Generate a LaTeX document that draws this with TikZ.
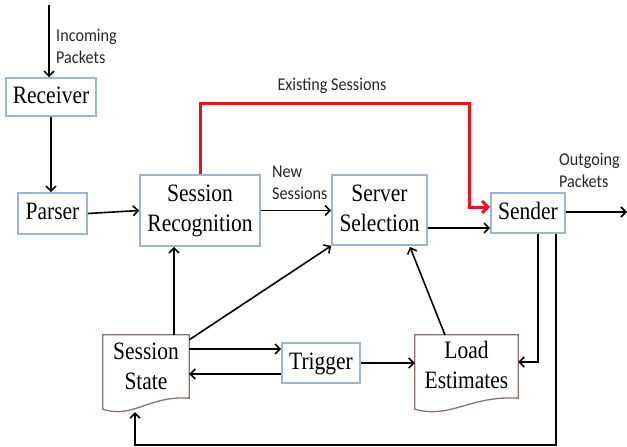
\documentclass[tikz,border=0pt]{standalone}
\usepackage{fontspec}
\setmainfont{Liberation Serif}
\newfontfamily\lab[FakeStretch=0.9]{Carlito}
\usetikzlibrary{arrows.meta,calc}
\definecolor{boxc}{HTML}{9DB5D3}
\definecolor{docc}{HTML}{8C7268}
\definecolor{redc}{HTML}{E8141B}
\definecolor{labc}{HTML}{262626}
\newcommand{\bt}[1]{\scalebox{0.86}[1]{\begin{tabular}{@{}c@{}}#1\end{tabular}}}
\begin{document}
\begin{tikzpicture}[x=1pt,y=-1pt,
  box/.style={draw=boxc, line width=1.6pt, fill=white, align=center, inner sep=0pt, font=\rmfamily\fontsize{25}{30}\selectfont},
  doc/.style={align=center, inner sep=0pt, font=\rmfamily\fontsize{25}{30}\selectfont},
  docline/.style={draw=docc, line width=1.3pt, fill=white},
  lbl/.style={align=left, inner sep=0pt, text=labc, font=\lab\fontsize{18}{22}\selectfont},
  conn/.style={line width=1.6pt, -{Straight Barb[length=5pt,width=10pt,line width=1.6pt]}},
  redconn/.style={draw=redc, line width=3pt, -{Straight Barb[length=6pt,width=12pt,line width=3pt]}}
  ]
\useasboundingbox (0,0) rectangle (627,447);

% boxes
\node[box, minimum width=90pt, minimum height=38pt] (rec) at (51,97) {\bt{Receiver}};
\node[box, minimum width=69pt, minimum height=41pt] (par) at (52.5,213.5) {\bt{Parser}};
\node[box, minimum width=120pt, minimum height=71pt] (sr) at (200,210.5) {\bt{Session\\Recognition}};
\node[box, minimum width=95pt, minimum height=70pt] (ssel) at (379.5,210) {\bt{Server\\Selection}};
\node[box, minimum width=74pt, minimum height=40pt] (snd) at (528,213) {\bt{Sender}};
\node[box, minimum width=78pt, minimum height=40pt] (trg) at (321,363) {\bt{Trigger}};

% document shapes
\node[minimum width=86pt, minimum height=66pt, inner sep=0pt] (ss) at (146,368) {};
\draw[docline] (ss.north west) -- (ss.north east) -- ($(ss.south east)+(0,-3)$)
  .. controls ($(ss.south east)+(-40,-6)$) and ($(ss.south west)+(30,18)$) .. ($(ss.south west)+(0,8)$) -- cycle;
\node[doc] (sst) at (146,368) {\bt{Session\\State}};

\node[minimum width=103pt, minimum height=66pt, inner sep=0pt] (le) at (466.5,368) {};
\draw[docline] (le.north west) -- (le.north east) -- ($(le.south east)+(0,-3)$)
  .. controls ($(le.south east)+(-48,-6)$) and ($(le.south west)+(36,18)$) .. ($(le.south west)+(0,8)$) -- cycle;
\node[doc] (let) at (466.5,367.5) {\bt{Load\\Estimates}};

% labels
\node[lbl, anchor=west] (linc) at (56,46) {Incoming\\Packets};
\node[lbl, anchor=west] (lnew) at (272,183) {New\\Sessions};
\node[lbl, anchor=west] (lout) at (559,170.5) {Outgoing\\Packets};
\node[lbl, anchor=center] (lex) at (332,86) {Existing Sessions};

% helper coordinates
\coordinate (in) at (49,5);
\coordinate (a1) at (427,228);
\coordinate (out) at (627,212);
\coordinate (r1) at (469,103);
\coordinate (r2) at (469,207);
\coordinate (v1) at (174,0);
\coordinate (t1) at (0,349);
\coordinate (t2) at (0,374);
\coordinate (lej) at (538,362);
\coordinate (bot) at (556,445);
\coordinate (ssb) at (135,412);
\coordinate (les) at (445,335);
\coordinate (sse) at (410,247);

% connectors
\draw[conn] (in) -- (in |- rec.north);
\draw[conn] (rec.south) -- (rec.south |- par.north);
\draw[conn] (par.east) -- (sr.west);
\draw[conn] (sr.east) -- (sr.east -| ssel.west);
\draw[conn] (ssel.east |- a1) -- (snd.west |- a1);
\draw[conn] (snd.east |- out) -- (out);
\draw[redconn] (sr.north) -- (sr.north |- r1) -- (r1) -- (r2) -- (snd.west |- r2);
\draw[conn] (ss.north -| v1) -- (sr.south -| v1);
\draw[conn] ($(ss.north east)+(0,5)$) -- (ssel.south west);
\draw[conn] (les) -- (sse);
\draw[conn] (ss.east |- t1) -- (trg.west |- t1);
\draw[conn] (trg.west |- t2) -- (ss.east |- t2);
\draw[conn] (trg.east) -- (le.west |- trg.east);
\draw[conn] (snd.south -| lej) -- (lej) -- (le.east |- lej);
\draw[conn] (snd.south -| bot) -- (bot) -- (bot -| ssb) -- (ssb);
\end{tikzpicture}
\end{document}
